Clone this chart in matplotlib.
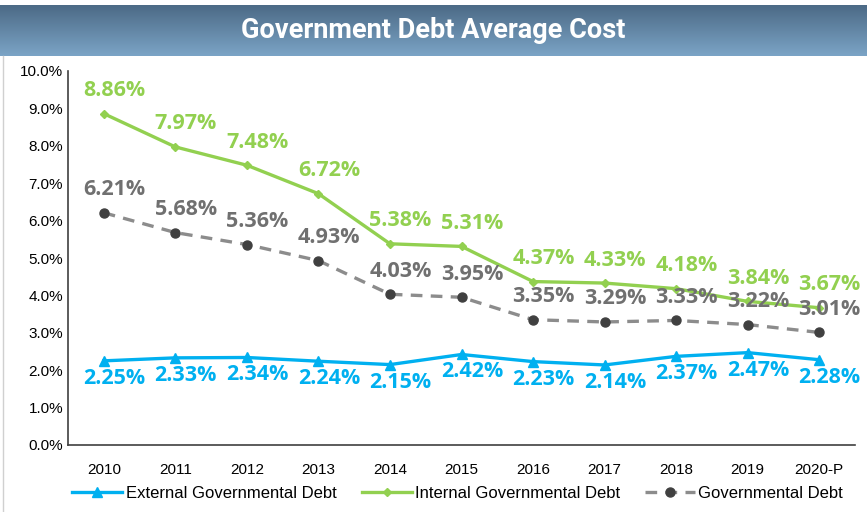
import matplotlib
matplotlib.use("Agg")
import matplotlib.pyplot as plt
import numpy as np
from matplotlib.lines import Line2D

# datos del gráfico
years = ['2010', '2011', '2012', '2013', '2014', '2015', '2016', '2017', '2018', '2019', '2020-P']
external = [2.25, 2.33, 2.34, 2.24, 2.15, 2.42, 2.23, 2.14, 2.37, 2.47, 2.28]
internal = [8.86, 7.97, 7.48, 6.72, 5.38, 5.31, 4.37, 4.33, 4.18, 3.84, 3.67]
government = [6.21, 5.68, 5.36, 4.93, 4.03, 3.95, 3.35, 3.29, 3.33, 3.22, 3.01]
yticks = np.arange(0, 10.5, 1.0)

BLUE = '#00B0F0'
GREEN = '#92D050'
GRAY = '#8C8C8C'
DARK = '#404040'
LABEL_GRAY = '#707070'

plt.rcParams['font.family'] = ['Liberation Sans', 'DejaVu Sans']

fig = plt.figure(figsize=(8.67, 5.12), dpi=100)

# barra del título con degradado
bar_ax = fig.add_axes([0, 1 - 56 / 512, 1, 51 / 512])
grad = np.linspace(0, 1, 100).reshape(-1, 1)
cmap = matplotlib.colors.LinearSegmentedColormap.from_list('t', ['#7BA4C6', '#4C6A86'])
bar_ax.imshow(grad, aspect='auto', cmap=cmap, extent=[0, 1, 0, 1], origin='lower')
bar_ax.set_axis_off()
bar_ax.text(0.5, 0.5, 'Government Debt Average Cost', color='white', fontsize=19.5,
            fontweight='bold', ha='center', va='center', family=['Roboto', 'DejaVu Sans'])

# borde izquierdo
fig.add_artist(Line2D([3 / 867, 3 / 867], [0, 1 - 56 / 512], color='#D0D0D0', lw=1))

ax = fig.add_axes([68 / 867, 67 / 512, 787 / 867, 374 / 512])
x = np.arange(len(years))

ax.plot(x, external, color=BLUE, lw=2.4, marker='^', ms=6.5, label='External Governmental Debt')
ax.plot(x, internal, color=GREEN, lw=2.4, marker='D', ms=4.5, label='Internal Governmental Debt')
ax.plot(x, government, color=GRAY, lw=2.4, ls=(0, (3.5, 2.5)), marker='o', ms=6.5,
        markerfacecolor=DARK, markeredgecolor=DARK, label='Governmental Debt')

# etiquetas de datos (un poco desplazadas a la derecha, como en el original)
lab_font = dict(fontsize=15.5, fontweight='bold', ha='center', family=['Open Sans', 'DejaVu Sans'])
for i in x:
    ax.annotate(f'{internal[i]:.2f}%', (i, internal[i]), xytext=(7.5, 9), textcoords='offset points',
                color=GREEN, va='bottom', **lab_font)
    ax.annotate(f'{government[i]:.2f}%', (i, government[i]), xytext=(7.5, 9), textcoords='offset points',
                color=LABEL_GRAY, va='bottom', **lab_font)
    ax.annotate(f'{external[i]:.2f}%', (i, external[i]), xytext=(7.5, -5), textcoords='offset points',
                color=BLUE, va='top', **lab_font)

ax.set_xlim(-0.5, len(years) - 0.5)
ax.set_ylim(0, 10)
ax.set_yticks(yticks)
ax.set_yticklabels([f'{v:.1f}%' for v in yticks])
ax.set_xticks(x)
ax.set_xticklabels(years)
ax.tick_params(axis='both', length=0, labelsize=11)
ax.tick_params(axis='x', pad=13)
for s in ['top', 'right']:
    ax.spines[s].set_visible(False)
for s in ['left', 'bottom']:
    ax.spines[s].set_color('#404040')
    ax.spines[s].set_linewidth(1.2)

fig.legend(loc='center', bbox_to_anchor=(0.528, 19 / 512), ncol=3, frameon=False, fontsize=12,
           handlelength=3.0, columnspacing=1.5, handletextpad=0.2)

fig.savefig('out.png', dpi=100)
